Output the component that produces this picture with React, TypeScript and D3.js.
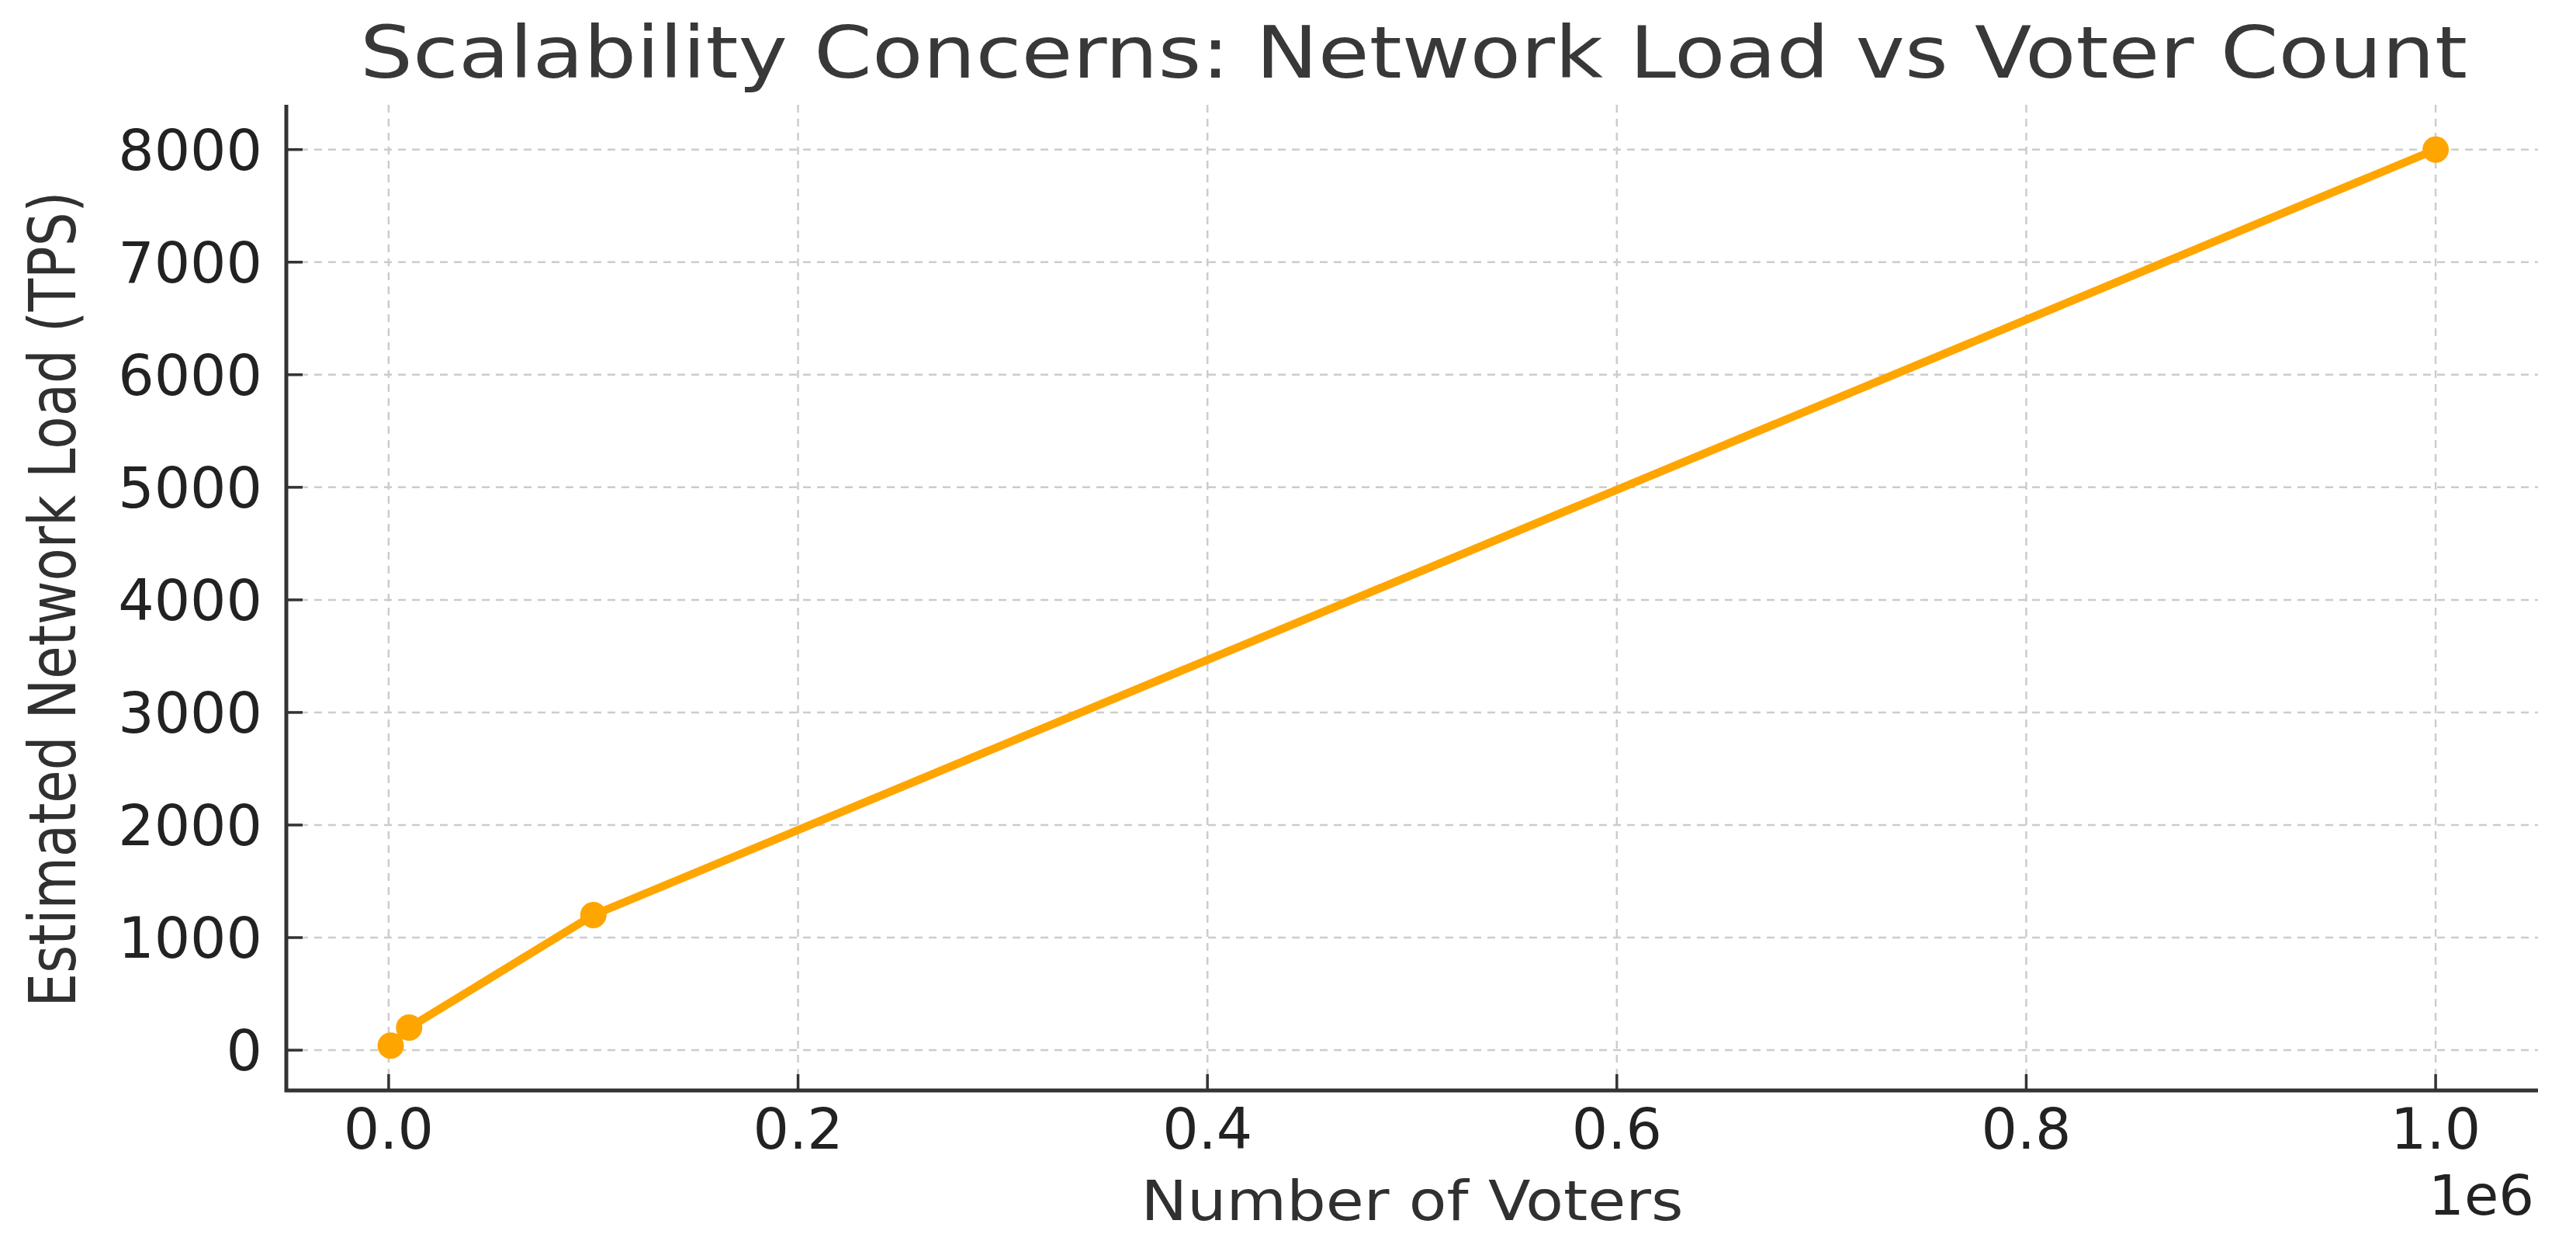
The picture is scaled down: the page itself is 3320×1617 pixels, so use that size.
import React, { useEffect, useRef } from 'react';
import * as d3 from 'd3';

const voters = [1000, 10000, 100000, 1000000];
const networkLoad = [40, 200, 1200, 8000];
const xTicks = [0, 200000, 400000, 600000, 800000, 1000000];
const xTickLabels = ['0.0', '0.2', '0.4', '0.6', '0.8', '1.0'];
const yTicks = [0, 1000, 2000, 3000, 4000, 5000, 6000, 7000, 8000];
const yTickLabels = ['0', '1000', '2000', '3000', '4000', '5000', '6000', '7000', '8000'];

const W = 3320;
const H = 1617;
const FONT = '"DejaVu Sans", Verdana, sans-serif';

// matplotlib style 5% padding on the data extent
const padded = (vals: number[]) => {
  const [lo, hi] = d3.extent(vals) as [number, number];
  const p = (hi - lo) * 0.05;
  return [lo - p, hi + p];
};

const App = () => {
  const svgRef = useRef<SVGSVGElement>(null);

  useEffect(() => {
    const svg = d3.select(svgRef.current);
    svg.selectAll('*').remove();

    const left = 369, right = 3271, top = 135, bottom = 1405;

    const x = d3.scaleLinear().domain(padded([0, ...voters])).range([left, right]);
    const y = d3.scaleLinear().domain(padded(networkLoad)).range([bottom, top]);

    svg.append('rect').attr('width', W).attr('height', H).attr('fill', '#fff');

    // grid
    const grid = svg.append('g')
      .attr('stroke', '#cccccc')
      .attr('stroke-width', 2.5)
      .attr('stroke-dasharray', '10 8');
    grid.selectAll('.gx').data(xTicks).enter().append('line')
      .attr('x1', d => x(d)).attr('x2', d => x(d))
      .attr('y1', top).attr('y2', bottom);
    grid.selectAll('.gy').data(yTicks).enter().append('line')
      .attr('x1', left).attr('x2', right)
      .attr('y1', d => y(d)).attr('y2', d => y(d));

    // ticks (inward)
    const ticks = svg.append('g').attr('stroke', '#333').attr('stroke-width', 3.5);
    ticks.selectAll('.tx').data(xTicks).enter().append('line')
      .attr('x1', d => x(d)).attr('x2', d => x(d))
      .attr('y1', bottom).attr('y2', bottom - 21);
    ticks.selectAll('.ty').data(yTicks).enter().append('line')
      .attr('x1', left).attr('x2', left + 21)
      .attr('y1', d => y(d)).attr('y2', d => y(d));

    // spines
    svg.append('path')
      .attr('d', `M${left},${top}V${bottom}H${right}`)
      .attr('fill', 'none')
      .attr('stroke', '#333')
      .attr('stroke-width', 5);

    // tick labels
    svg.append('g').selectAll('text').data(xTicks).enter().append('text')
      .attr('x', d => x(d)).attr('y', 1480)
      .attr('text-anchor', 'middle')
      .attr('font-family', FONT).attr('font-size', 73).attr('fill', '#222')
      .text((d, i) => xTickLabels[i]);
    svg.append('g').selectAll('text').data(yTicks).enter().append('text')
      .attr('x', 338).attr('y', d => y(d)).attr('dy', '0.36em')
      .attr('text-anchor', 'end')
      .attr('font-family', FONT).attr('font-size', 73).attr('fill', '#222')
      .text((d, i) => yTickLabels[i]);

    // offset text
    svg.append('text')
      .attr('x', 3266).attr('y', 1565)
      .attr('text-anchor', 'end')
      .attr('font-family', FONT).attr('font-size', 72).attr('fill', '#222')
      .text('1e6');

    // line + markers
    const pts = voters.map((v, i) => [v, networkLoad[i]] as [number, number]);
    const line = d3.line<[number, number]>().x(d => x(d[0])).y(d => y(d[1]));
    svg.append('path')
      .attr('d', line(pts))
      .attr('fill', 'none')
      .attr('stroke', '#FFA500')
      .attr('stroke-width', 10.5)
      .attr('stroke-linejoin', 'round');
    svg.append('g').selectAll('circle').data(pts).enter().append('circle')
      .attr('cx', d => x(d[0])).attr('cy', d => y(d[1]))
      .attr('r', 17)
      .attr('fill', '#FFA500');

    // titles
    svg.append('text')
      .attr('x', 1822).attr('y', 100)
      .attr('text-anchor', 'middle')
      .attr('font-family', FONT).attr('font-size', 93).attr('fill', '#383838')
      .attr('textLength', 2716).attr('lengthAdjust', 'spacingAndGlyphs')
      .text('Scalability Concerns: Network Load vs Voter Count');
    svg.append('text')
      .attr('x', 1820).attr('y', 1572)
      .attr('text-anchor', 'middle')
      .attr('font-family', FONT).attr('font-size', 72).attr('fill', '#303030')
      .attr('textLength', 699).attr('lengthAdjust', 'spacingAndGlyphs')
      .text('Number of Voters');
    svg.append('text')
      .attr('transform', `translate(97,${(top + bottom) / 2 + 2}) rotate(-90)`)
      .attr('text-anchor', 'middle')
      .attr('font-family', FONT).attr('font-size', 84).attr('fill', '#303030')
      .attr('textLength', 1051).attr('lengthAdjust', 'spacingAndGlyphs')
      .text('Estimated Network Load (TPS)');
  }, []);

  return (
    <div style={{ position: 'absolute', left: 0, top: 0 }}>
      <svg ref={svgRef} width={W} height={H} style={{ display: 'block' }}></svg>
    </div>
  );
};

export default App;
